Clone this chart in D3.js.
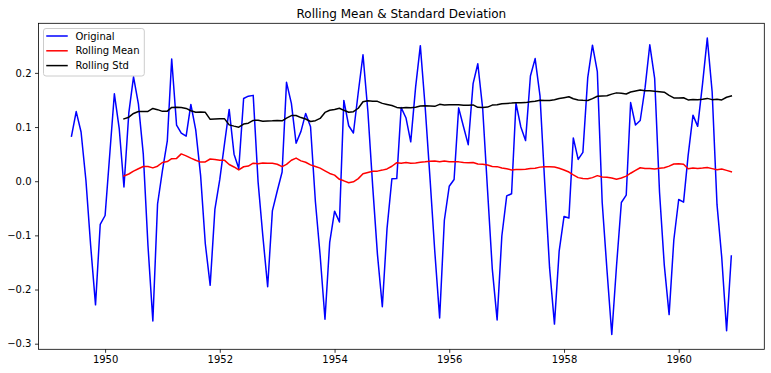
<!DOCTYPE html>
<html>
<head>
<meta charset="utf-8">
<script src="https://cdn.jsdelivr.net/npm/d3@7"></script>
<style>
  html, body { margin: 0; padding: 0; background: #fff; }
  svg { display: block; }
  text { font-family: "DejaVu Sans", sans-serif; }
</style>
</head>
<body>
<svg id="chart" width="771" height="373"></svg>
<script>
// ---- data ----
const startMonth = "1949-06";           // first month of the Original series
const rollingStartMonth = "1950-05";    // first month of the rolling series

const original = [
  0.0831, 0.1286, 0.0908, 0.0014, -0.1188, -0.2283, -0.0795,
  -0.0633, 0.0549, 0.1614, 0.0969, -0.0108, 0.1260, 0.1927, 0.1428, 0.0506, -0.1192, -0.2579, -0.0421,
  0.0195, 0.0743, 0.2256, 0.1037, 0.0888, 0.0831, 0.1418, 0.0947, 0.0108, -0.1155, -0.1922, -0.0521,
  0.0028, 0.0709, 0.1326, 0.0499, 0.0233, 0.1528, 0.1570, 0.1585, -0.0013, -0.1003, -0.1948, -0.0549,
  -0.0181, 0.0171, 0.1825, 0.1438, 0.0702, 0.0920, 0.1252, 0.1005, -0.0379, -0.1362, -0.2550, -0.1130,
  -0.0553, -0.0754, 0.1492, 0.1024, 0.0890, 0.1642, 0.2333, 0.1291, -0.0105, -0.1350, -0.2318, -0.0876,
  0.0045, 0.0048, 0.1359, 0.1166, 0.0727, 0.1738, 0.2503, 0.1361, 0.0038, -0.1292, -0.2525, -0.0721,
  -0.0094, 0.0032, 0.1354, 0.1006, 0.0675, 0.1802, 0.2169, 0.1341, -0.0166, -0.1613, -0.2561, -0.1012,
  -0.0271, -0.0231, 0.1442, 0.1001, 0.0750, 0.1943, 0.2264, 0.1575, -0.0084, -0.1601, -0.2638, -0.1290,
  -0.0650, -0.0678, 0.0800, 0.0402, 0.0533, 0.1912, 0.2511, 0.2022, -0.0393, -0.1626, -0.2830, -0.1570,
  -0.0393, -0.0256, 0.1452, 0.1038, 0.1121, 0.1727, 0.2519, 0.1898, -0.0204, -0.1539, -0.2463, -0.1085,
  -0.0338, -0.0386, 0.0472, 0.1220, 0.1013, 0.1802, 0.2642, 0.1652, -0.0433, -0.1404, -0.2759, -0.1380
];

const rollingMean = [
  0.0097, 0.0133, 0.0186, 0.0230, 0.0271, 0.0270, 0.0246, 0.0277, 0.0346, 0.0362, 0.0415, 0.0421, 0.0504,
  0.0468, 0.0426, 0.0386, 0.0353, 0.0356, 0.0410, 0.0402, 0.0388, 0.0385, 0.0308, 0.0263, 0.0208,
  0.0267, 0.0279, 0.0332, 0.0322, 0.0335, 0.0333, 0.0330, 0.0313, 0.0268, 0.0310, 0.0388, 0.0427,
  0.0376, 0.0350, 0.0302, 0.0271, 0.0241, 0.0191, 0.0143, 0.0112, 0.0035, 0.0007, -0.0028, -0.0012,
  0.0048, 0.0138, 0.0162, 0.0185, 0.0186, 0.0205, 0.0226, 0.0276, 0.0343, 0.0332, 0.0344, 0.0330,
  0.0338, 0.0352, 0.0358, 0.0370, 0.0375, 0.0358, 0.0371, 0.0359, 0.0358, 0.0357, 0.0344, 0.0340,
  0.0345, 0.0317, 0.0315, 0.0298, 0.0272, 0.0269, 0.0244, 0.0230, 0.0208, 0.0215, 0.0215, 0.0221,
  0.0233, 0.0241, 0.0260, 0.0267, 0.0268, 0.0262, 0.0238, 0.0207, 0.0170, 0.0116, 0.0066, 0.0048,
  0.0045, 0.0066, 0.0103, 0.0078, 0.0075, 0.0059, 0.0036, 0.0058, 0.0093, 0.0147, 0.0200, 0.0249,
  0.0234, 0.0234, 0.0224, 0.0240, 0.0247, 0.0278, 0.0318, 0.0323, 0.0312, 0.0230, 0.0245, 0.0236,
  0.0242, 0.0253, 0.0232, 0.0213, 0.0224, 0.0200, 0.0175
];

const rollingStd = [
  0.1151, 0.1182, 0.1251, 0.1287, 0.1287, 0.1288, 0.1343, 0.1321, 0.1290, 0.1294, 0.1362, 0.1365, 0.1360,
  0.1344, 0.1301, 0.1274, 0.1276, 0.1272, 0.1142, 0.1149, 0.1152, 0.1151, 0.1040, 0.1017, 0.0998,
  0.1056, 0.1072, 0.1123, 0.1125, 0.1108, 0.1113, 0.1115, 0.1122, 0.1115, 0.1166, 0.1211, 0.1213,
  0.1175, 0.1149, 0.1103, 0.1118, 0.1159, 0.1270, 0.1311, 0.1324, 0.1347, 0.1309, 0.1273, 0.1284,
  0.1347, 0.1466, 0.1484, 0.1477, 0.1475, 0.1437, 0.1418, 0.1398, 0.1363, 0.1353, 0.1361, 0.1356,
  0.1364, 0.1387, 0.1392, 0.1388, 0.1382, 0.1419, 0.1408, 0.1411, 0.1411, 0.1411, 0.1404, 0.1402,
  0.1408, 0.1364, 0.1363, 0.1368, 0.1405, 0.1411, 0.1432, 0.1437, 0.1442, 0.1449, 0.1448, 0.1451,
  0.1465, 0.1477, 0.1494, 0.1492, 0.1491, 0.1504, 0.1527, 0.1543, 0.1560, 0.1523, 0.1501, 0.1493,
  0.1489, 0.1524, 0.1569, 0.1575, 0.1577, 0.1608, 0.1631, 0.1623, 0.1610, 0.1647, 0.1666, 0.1685,
  0.1669, 0.1670, 0.1659, 0.1653, 0.1644, 0.1584, 0.1538, 0.1536, 0.1541, 0.1501, 0.1510, 0.1505,
  0.1512, 0.1529, 0.1506, 0.1514, 0.1500, 0.1550, 0.1574
];

const xTickYears = [1950, 1952, 1954, 1956, 1958, 1960];
const yTicks = [-0.3, -0.2, -0.1, 0.0, 0.1, 0.2];
const seriesNames = ["Original", "Rolling Mean", "Rolling Std"];
const seriesColors = ["#0000ff", "#ff0000", "#000000"];
const title = "Rolling Mean & Standard Deviation";

// ---- helpers ----
const parseMonth = d3.utcParse("%Y-%m");
function monthsFrom(start, n) {
  const s = parseMonth(start);
  return d3.range(n).map(i => d3.utcMonth.offset(s, i));
}
const origDates = monthsFrom(startMonth, original.length);
const rollDates = monthsFrom(rollingStartMonth, rollingMean.length);

const origData = original.map((v, i) => ({ date: origDates[i], value: v }));
const meanData = rollingMean.map((v, i) => ({ date: rollDates[i], value: v }));
const stdData = rollingStd.map((v, i) => ({ date: rollDates[i], value: v }));

// ---- layout ----
const svg = d3.select("#chart");
const L = 38.5, R = 764.3, T = 23.3, B = 349.3;

// matplotlib-like 5% margins
const xExt = d3.extent(origDates, d => +d);
const xPad = (xExt[1] - xExt[0]) * 0.05;
const allVals = original.concat(rollingMean, rollingStd);
const yExt = d3.extent(allVals);
const yPad = (yExt[1] - yExt[0]) * 0.05;

const x = d3.scaleUtc()
  .domain([new Date(xExt[0] - xPad), new Date(xExt[1] + xPad)])
  .range([L, R]);
const y = d3.scaleLinear()
  .domain([yExt[0] - yPad, yExt[1] + yPad])
  .range([B, T]);

// clip
svg.append("defs").append("clipPath").attr("id", "clip")
  .append("rect").attr("x", L).attr("y", T).attr("width", R - L).attr("height", B - T);

// lines
const line = d3.line().x(d => x(d.date)).y(d => y(d.value));
const plot = svg.append("g").attr("clip-path", "url(#clip)");
[origData, meanData, stdData].forEach((data, i) => {
  plot.append("path")
    .datum(data)
    .attr("d", line)
    .attr("fill", "none")
    .attr("stroke", seriesColors[i])
    .attr("stroke-width", 1.5)
    .attr("stroke-linejoin", "round")
    .attr("stroke-linecap", "square");
});

// axes
const xAxis = d3.axisBottom(x)
  .tickValues(xTickYears.map(yr => new Date(Date.UTC(yr, 0, 1))))
  .tickFormat(d3.utcFormat("%Y"))
  .tickSize(3.5).tickPadding(3.5);
const yAxis = d3.axisLeft(y)
  .tickValues(yTicks)
  .tickFormat(d3.format(".1f"))
  .tickSize(3.5).tickPadding(3.5);

const gx = svg.append("g").attr("transform", `translate(0,${B})`).call(xAxis);
const gy = svg.append("g").attr("transform", `translate(${L},0)`).call(yAxis);
[gx, gy].forEach(g => {
  g.select(".domain").remove();
  g.selectAll(".tick line").attr("stroke", "#000").attr("stroke-width", 0.8);
  g.selectAll(".tick text").attr("fill", "#000")
    .style("font-family", "'DejaVu Sans', sans-serif").style("font-size", "10px");
});

// spines
svg.append("rect")
  .attr("x", L).attr("y", T).attr("width", R - L).attr("height", B - T)
  .attr("fill", "none").attr("stroke", "#000").attr("stroke-width", 0.8);

// title
svg.append("text")
  .attr("x", (L + R) / 2).attr("y", 18.3)
  .attr("text-anchor", "middle")
  .style("font-size", "12px")
  .attr("fill", "#000")
  .text(title);

// legend
const lg = svg.append("g");
lg.append("rect")
  .attr("x", 43.5).attr("y", 28.5).attr("width", 100.8).attr("height", 47.5)
  .attr("rx", 2.5).attr("ry", 2.5)
  .attr("fill", "#fff").attr("fill-opacity", 0.8)
  .attr("stroke", "#cccccc").attr("stroke-width", 1);
seriesNames.forEach((name, i) => {
  const cy = 36 + i * 14.8;
  lg.append("line")
    .attr("x1", 47).attr("x2", 67).attr("y1", cy).attr("y2", cy)
    .attr("stroke", seriesColors[i]).attr("stroke-width", 1.5)
    .attr("stroke-linecap", "square");
  lg.append("text")
    .attr("x", 75.5).attr("y", cy).attr("dy", "0.36em")
    .style("font-size", "10px").attr("fill", "#000")
    .text(name);
});
</script>
</body>
</html>
